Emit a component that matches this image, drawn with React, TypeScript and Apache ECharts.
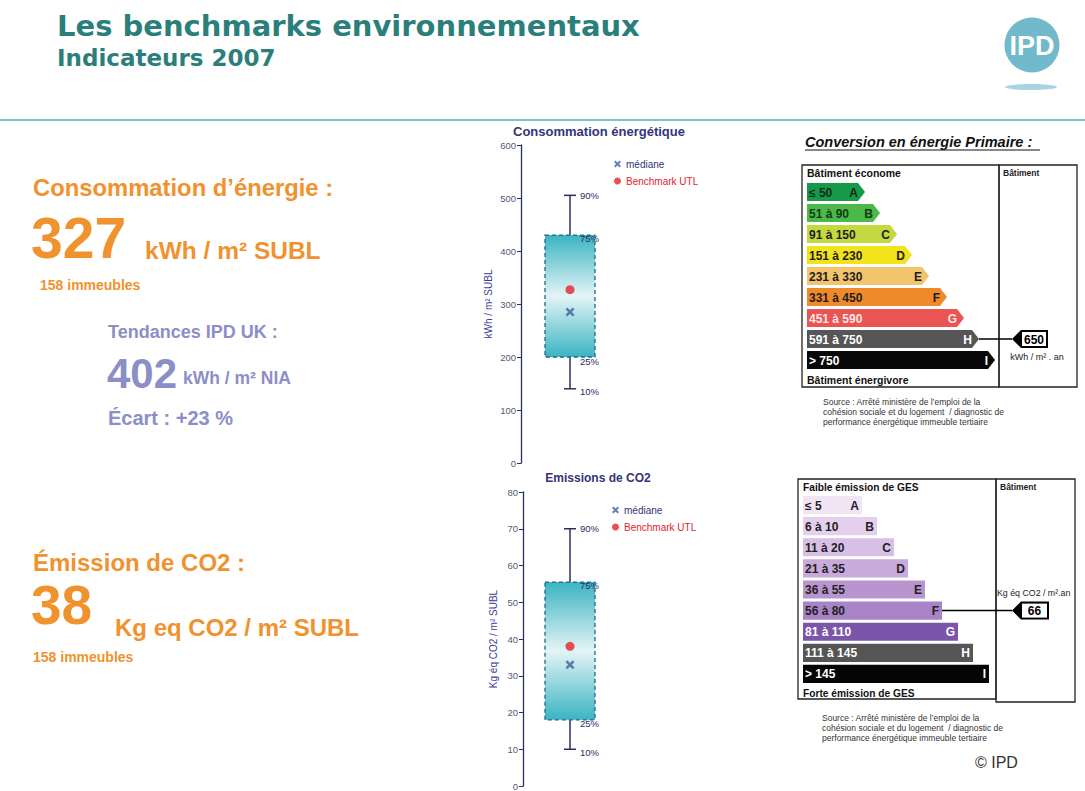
import React, { useEffect, useRef } from "react";
import * as echarts from "echarts";

const FONT = '"Liberation Sans", Arial, Helvetica, sans-serif';
const WIDE = '"DejaVu Sans", Verdana, sans-serif';

// ---- Box plots (percentiles 10 / 25 / 75 / 90) ----
const percentileLabels = ["10%", "25%", "75%", "90%"];
const energyPercentiles = [140, 200, 430, 505];
const energyMedian = [285];
const energyBenchmark = [327];
const co2Percentiles = [10, 18, 55.5, 70];
const co2Median = [33];
const co2Benchmark = [38];

// ---- Headline figures ----
const energyHeadline = ["Consommation d’énergie :", "327", "kWh / m² SUBL", "158 immeubles"];
const ukTrend = ["Tendances IPD UK :", "402", "kWh / m² NIA", "Écart : +23 %"];
const co2Headline = ["Émission de CO2 :", "38", "Kg eq CO2 / m² SUBL", "158 immeubles"];

// ---- DPE energy label ----
const classLetters = ["A", "B", "C", "D", "E", "F", "G", "H", "I"];
const energyRanges = ["≤ 50", "51 à 90", "91 à 150", "151 à 230", "231 à 330", "331 à 450", "451 à 590", "591 à 750", "> 750"];
const energyUpper = [50, 90, 150, 230, 330, 450, 590, 750, Infinity];
const energyBarLength = [51, 66, 83, 98, 115, 133, 150, 165, 181];
const energyColors = ["#17994a", "#4cb848", "#c3d93f", "#f2e31b", "#f2c46c", "#ef8a2a", "#ea5452", "#565656", "#080808"];
const energyTextColors = ["#0b2e16", "#0f3d14", "#1e1e1e", "#1e1e1e", "#1e1e1e", "#1e1e1e", "#ffe9e9", "#ffffff", "#ffffff"];
const energyBuilding = 650;

// ---- GES label ----
const gesRanges = ["≤ 5", "6 à 10", "11 à 20", "21 à 35", "36 à 55", "56 à 80", "81 à 110", "111 à 145", "> 145"];
const gesUpper = [5, 10, 20, 35, 55, 80, 110, 145, Infinity];
const gesBarLength = [59, 74, 91, 105, 122, 139, 155, 170, 186];
const gesColors = ["#f1e4f4", "#e4d0ec", "#d8bfe6", "#c9aadc", "#b995d0", "#a883c6", "#7b55aa", "#565656", "#050505"];
const gesTextColors = ["#222", "#222", "#222", "#222", "#222", "#222", "#ffffff", "#ffffff", "#ffffff"];
const gesBuilding = 66;

const sourceLines = [
  "Source : Arrêté ministère de l’emploi de la",
  "cohésion sociale et du logement  / diagnostic de",
  "performance énergétique immeuble tertiaire",
];

const X_PATH = "path://M2,0L5,3L8,0L10,2L7,5L10,8L8,10L5,7L2,10L0,8L3,5L0,2Z";
const NAVY = "#2d2d62";
const ORANGE = "#f0922e";
const LAVENDER = "#8c8ec8";
const TEAL = "#2b7f7b";

function txt(text: string, x: number, y: number, font: string, fill: string, align = "left", extra: any = {}) {
  return {
    type: "text",
    silent: true,
    style: {
      text, x, y, font, fill,
      align, textAlign: align,
      verticalAlign: "middle", textVerticalAlign: "middle",
      ...extra,
    },
  };
}

function boxRender(params: any, api: any) {
  const q10 = api.value(1), q25 = api.value(2), q75 = api.value(3), q90 = api.value(4);
  const p10 = api.coord([api.value(0), q10]);
  const p25 = api.coord([api.value(0), q25]);
  const p75 = api.coord([api.value(0), q75]);
  const p90 = api.coord([api.value(0), q90]);
  const x = p10[0];
  const half = 25;
  const lineStyle = { stroke: NAVY, lineWidth: 1.5 };
  const f = `9.5px ${FONT}`;
  return {
    type: "group",
    children: [
      { type: "line", shape: { x1: x, y1: p90[1], x2: x, y2: p75[1] }, style: lineStyle },
      { type: "line", shape: { x1: x - 6, y1: p90[1], x2: x + 6, y2: p90[1] }, style: lineStyle },
      { type: "line", shape: { x1: x, y1: p25[1], x2: x, y2: p10[1] }, style: lineStyle },
      { type: "line", shape: { x1: x - 6, y1: p10[1], x2: x + 6, y2: p10[1] }, style: lineStyle },
      {
        type: "rect",
        shape: { x: x - half, y: p75[1], width: half * 2, height: p25[1] - p75[1] },
        style: {
          fill: new echarts.graphic.LinearGradient(0, 0, 0, 1, [
            { offset: 0, color: "#3ab4c3" },
            { offset: 0.5, color: "#e4f4f6" },
            { offset: 1, color: "#3ab4c3" },
          ]),
          stroke: "#1b6a84",
          lineWidth: 1.3,
          lineDash: [4, 3],
        },
      },
      txt(percentileLabels[3], x + 10, p90[1], f, NAVY),
      txt(percentileLabels[2], x + 10, p75[1] + 3, f, NAVY),
      txt(percentileLabels[1], x + 10, p25[1] + 4, f, NAVY),
      txt(percentileLabels[0], x + 10, p10[1] + 3, f, NAVY),
    ],
  };
}

function labelRender(
  ranges: string[], colors: string[], textColors: string[], tip: number,
  buildIdx: number, buildVal: number, tagTipX: number, tagRightX: number
) {
  return (params: any, api: any) => {
    const i = api.value(1);
    const end = api.coord([api.value(0), i]);
    const start = api.coord([0, i]);
    const h = api.size([0, 1])[1] * 0.86;
    const cy = end[1];
    const x0 = start[0];
    const x1 = end[0];
    const pts = tip > 0
      ? [[x0, cy - h / 2], [x1, cy - h / 2], [x1 + tip, cy], [x1, cy + h / 2], [x0, cy + h / 2]]
      : [[x0, cy - h / 2], [x1, cy - h / 2], [x1, cy + h / 2], [x0, cy + h / 2]];
    const children: any[] = [
      { type: "polygon", shape: { points: pts }, style: { fill: colors[i] } },
      txt(ranges[i], x0 + 2, cy + 0.5, `bold 12px ${FONT}`, textColors[i]),
      txt(classLetters[i], x1 - 3 + (tip > 0 ? 3 : 0), cy + 0.5, `bold 12px ${FONT}`, textColors[i], "right"),
    ];
    if (i === buildIdx) {
      children.push(
        { type: "line", shape: { x1: x1 + tip, y1: cy, x2: tagTipX, y2: cy }, style: { stroke: "#000", lineWidth: 1.5 } },
        {
          type: "polygon",
          shape: { points: [[tagTipX, cy], [tagTipX + 9, cy - 9], [tagRightX, cy - 9], [tagRightX, cy + 9], [tagTipX + 9, cy + 9]] },
          style: { fill: "#000" },
        },
        { type: "rect", shape: { x: tagTipX + 10, y: cy - 7, width: tagRightX - tagTipX - 12, height: 14 }, style: { fill: "#fff" } },
        txt(String(buildVal), (tagTipX + 10 + tagRightX - 2) / 2, cy + 0.5, `bold 12px ${FONT}`, "#000", "center")
      );
    }
    return { type: "group", children };
  };
}

export default function App() {
  const ref = useRef<HTMLDivElement>(null);

  useEffect(() => {
    if (!ref.current) return;
    const chart = echarts.init(ref.current, undefined, { renderer: "svg" });

    const energyIdx = energyUpper.findIndex((u) => energyBuilding <= u);
    const gesIdx = gesUpper.findIndex((u) => gesBuilding <= u);

    const yAxisCommon = {
      axisLine: { show: true, lineStyle: { color: NAVY, width: 1.3 } },
      axisTick: { show: true, length: 4, lineStyle: { color: NAVY } },
      axisLabel: { fontSize: 9.5, color: "#55587a", margin: 5, fontFamily: FONT },
      splitLine: { show: false },
      nameLocation: "middle",
      nameRotate: 90,
      nameTextStyle: { fontSize: 10, color: "#3b3e9a", fontFamily: FONT },
    };

    const legendCommon = {
      orient: "vertical",
      itemWidth: 7,
      itemHeight: 7,
      itemGap: 7,
      padding: 0,
      textStyle: { fontSize: 10, fontFamily: FONT },
      selectedMode: false,
    };

    const graphics: any[] = [
      // header
      txt("Les benchmarks environnementaux", 57, 26, `bold 29px ${WIDE}`, TEAL),
      txt("Indicateurs 2007", 57, 58, `bold 23px ${WIDE}`, TEAL),
      { type: "circle", silent: true, shape: { cx: 1032, cy: 45, r: 27.5 }, style: { fill: "#72b9cc" } },
      txt("IPD", 1032, 46, `bold 27px ${FONT}`, "#ffffff", "center"),
      { type: "ellipse", silent: true, shape: { cx: 1031, cy: 87, rx: 26, ry: 3 }, style: { fill: "#a9d3e2" } },
      { type: "line", silent: true, shape: { x1: 0, y1: 120, x2: 1085, y2: 120 }, style: { stroke: "#7ec3cc", lineWidth: 2 } },

      // left headline texts
      txt(energyHeadline[0], 33, 187, `bold 23.8px ${FONT}`, ORANGE),
      txt(energyHeadline[1], 31, 238, `bold 57px ${FONT}`, ORANGE),
      txt(energyHeadline[2], 145, 250, `bold 24.5px ${FONT}`, ORANGE),
      txt(energyHeadline[3], 40, 285, `bold 14px ${FONT}`, ORANGE),
      txt(ukTrend[0], 108, 332, `bold 18px ${FONT}`, LAVENDER),
      txt(ukTrend[1], 107, 373, `bold 42px ${FONT}`, LAVENDER),
      txt(ukTrend[2], 183, 378, `bold 17.5px ${FONT}`, LAVENDER),
      txt(ukTrend[3], 108, 418, `bold 20px ${FONT}`, LAVENDER),
      txt(co2Headline[0], 33, 562, `bold 24px ${FONT}`, ORANGE),
      txt(co2Headline[1], 31, 605, `bold 55px ${FONT}`, ORANGE),
      txt(co2Headline[2], 115, 627, `bold 24px ${FONT}`, ORANGE),
      txt(co2Headline[3], 33, 657, `bold 14px ${FONT}`, ORANGE),

      // box plot titles
      txt("Consommation énergétique", 599, 131, `bold 13px ${FONT}`, "#33347a", "center"),
      txt("Emissions de CO2", 598, 478, `bold 12px ${FONT}`, "#33347a", "center"),

      // panel 1
      txt("Conversion en énergie Primaire :", 805, 142, `italic bold 14.5px ${FONT}`, "#111"),
      { type: "line", silent: true, shape: { x1: 805, y1: 150, x2: 1040, y2: 150 }, style: { stroke: "#111", lineWidth: 1 } },
      { type: "rect", silent: true, shape: { x: 802, y: 165, width: 197, height: 222 }, style: { fill: "none", stroke: "#222", lineWidth: 1.3 } },
      { type: "rect", silent: true, shape: { x: 999, y: 165, width: 78, height: 222 }, style: { fill: "none", stroke: "#222", lineWidth: 1.3 } },
      txt("Bâtiment économe", 807, 173, `bold 10.5px ${FONT}`, "#111"),
      txt("Bâtiment", 1003, 173, `bold 8.5px ${FONT}`, "#222"),
      txt("Bâtiment énergivore", 807, 380, `bold 10.5px ${FONT}`, "#111"),
      txt("kWh / m² . an", 1037, 357, `9px ${FONT}`, "#222", "center"),
      txt(sourceLines[0], 823, 402, `8.5px ${FONT}`, "#333"),
      txt(sourceLines[1], 823, 412, `8.5px ${FONT}`, "#333"),
      txt(sourceLines[2], 823, 422, `8.5px ${FONT}`, "#333"),

      // panel 2
      { type: "rect", silent: true, shape: { x: 798, y: 479, width: 198, height: 220 }, style: { fill: "none", stroke: "#222", lineWidth: 1.3 } },
      { type: "rect", silent: true, shape: { x: 996, y: 479, width: 79, height: 223 }, style: { fill: "none", stroke: "#222", lineWidth: 1.3 } },
      txt("Faible émission de GES", 803, 487, `bold 10.2px ${FONT}`, "#111"),
      txt("Bâtiment", 1000, 487, `bold 8.5px ${FONT}`, "#222"),
      txt("Kg éq CO2 / m².an", 997, 593, `8.8px ${FONT}`, "#222"),
      txt("Forte émission de GES", 803, 693, `bold 10.2px ${FONT}`, "#111"),
      txt(sourceLines[0], 822, 718, `8.5px ${FONT}`, "#333"),
      txt(sourceLines[1], 822, 728, `8.5px ${FONT}`, "#333"),
      txt(sourceLines[2], 822, 738, `8.5px ${FONT}`, "#333"),
      txt("© IPD", 975, 762, `16px ${FONT}`, "#333"),
    ];

    chart.setOption({
      animation: false,
      backgroundColor: "#ffffff",
      textStyle: { fontFamily: FONT },
      grid: [
        { left: 521, top: 145, width: 98, height: 318 },
        { left: 523, top: 492, width: 94, height: 294 },
        { left: 807, top: 181.5, width: 190, height: 189 },
        { left: 803, top: 494.5, width: 190, height: 190 },
      ],
      xAxis: [
        { type: "category", gridIndex: 0, data: ["Énergie"], show: false },
        { type: "category", gridIndex: 1, data: ["CO2"], show: false },
        { type: "value", gridIndex: 2, min: 0, max: 190, show: false },
        { type: "value", gridIndex: 3, min: 0, max: 190, show: false },
      ],
      yAxis: [
        { type: "value", gridIndex: 0, min: 0, max: 600, interval: 100, name: "kWh / m² SUBL", nameGap: 28, ...yAxisCommon },
        { type: "value", gridIndex: 1, min: 0, max: 80, interval: 10, name: "Kg éq CO2 / m² SUBL", nameGap: 25, ...yAxisCommon },
        { type: "category", gridIndex: 2, data: classLetters, inverse: true, show: false },
        { type: "category", gridIndex: 3, data: classLetters, inverse: true, show: false },
      ],
      legend: [
        {
          ...legendCommon,
          left: 614,
          top: 159,
          data: [
            { name: "médiane", icon: X_PATH, textStyle: { color: "#33347a" } },
            { name: "Benchmark UTL", icon: "circle", textStyle: { color: "#e3242b" } },
          ],
        },
        {
          ...legendCommon,
          left: 612,
          top: 505,
          data: [
            { name: "médiane", icon: X_PATH, textStyle: { color: "#33347a" } },
            { name: "Benchmark UTL", icon: "circle", textStyle: { color: "#e3242b" } },
          ],
        },
      ],
      graphic: graphics,
      series: [
        {
          type: "custom",
          name: "Énergie",
          xAxisIndex: 0,
          yAxisIndex: 0,
          renderItem: boxRender,
          encode: { x: 0, y: [1, 2, 3, 4] },
          data: [[0, ...energyPercentiles]],
          z: 2,
        },
        {
          type: "scatter",
          name: "Benchmark UTL",
          xAxisIndex: 0,
          yAxisIndex: 0,
          symbol: "circle",
          symbolSize: 9,
          itemStyle: { color: "#e3242b" },
          data: energyBenchmark.map((v) => [0, v]),
          z: 5,
        },
        {
          type: "scatter",
          name: "médiane",
          xAxisIndex: 0,
          yAxisIndex: 0,
          symbol: X_PATH,
          symbolSize: 9,
          itemStyle: { color: "#3a63a0" },
          data: energyMedian.map((v) => [0, v]),
          z: 5,
        },
        {
          type: "custom",
          name: "CO2",
          xAxisIndex: 1,
          yAxisIndex: 1,
          renderItem: boxRender,
          encode: { x: 0, y: [1, 2, 3, 4] },
          data: [[0, ...co2Percentiles]],
          z: 2,
        },
        {
          type: "scatter",
          name: "Benchmark UTL",
          xAxisIndex: 1,
          yAxisIndex: 1,
          symbol: "circle",
          symbolSize: 9,
          itemStyle: { color: "#e3242b" },
          data: co2Benchmark.map((v) => [0, v]),
          z: 5,
        },
        {
          type: "scatter",
          name: "médiane",
          xAxisIndex: 1,
          yAxisIndex: 1,
          symbol: X_PATH,
          symbolSize: 9,
          itemStyle: { color: "#3a63a0" },
          data: co2Median.map((v) => [0, v]),
          z: 5,
        },
        {
          type: "custom",
          name: "Étiquette énergie",
          xAxisIndex: 2,
          yAxisIndex: 2,
          renderItem: labelRender(energyRanges, energyColors, energyTextColors, 7, energyIdx, energyBuilding, 1012, 1048),
          encode: { x: 0, y: 1 },
          data: energyBarLength.map((v, i) => [v, i]),
        },
        {
          type: "custom",
          name: "Étiquette GES",
          xAxisIndex: 3,
          yAxisIndex: 3,
          renderItem: labelRender(gesRanges, gesColors, gesTextColors, 0, gesIdx, gesBuilding, 1012, 1049),
          encode: { x: 0, y: 1 },
          data: gesBarLength.map((v, i) => [v, i]),
        },
      ],
    });

    return () => chart.dispose();
  }, []);

  return (
    <div
      ref={ref}
      style={{ position: "absolute", left: 0, top: 0, width: 1085, height: 791, background: "#fff" }}
    />
  );
}
